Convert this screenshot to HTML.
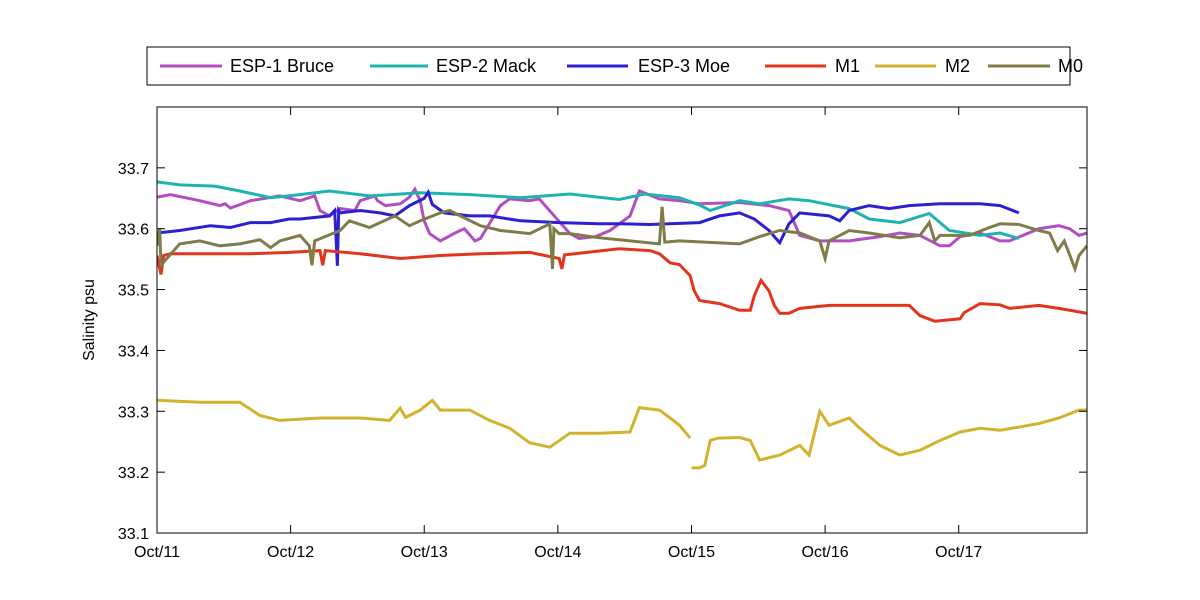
<!DOCTYPE html>
<html><head><meta charset="utf-8"><style>
body{margin:0;background:#fff;font-family:"Liberation Sans",Arial,sans-serif}
svg{display:block}
</style></head><body>
<svg id="chart" width="1200" height="600" xmlns="http://www.w3.org/2000/svg">
<rect width="1200" height="600" fill="#fff"/>
<g id="plot"></g>
<g id="axes"></g>
<g id="legend"></g>
</svg>
<script>
const xTickLabels=["Oct/11","Oct/12","Oct/13","Oct/14","Oct/15","Oct/16","Oct/17"];
const xTickDays=[0,1,2,3,4,5,6];
const yTicks=[33.1,33.2,33.3,33.4,33.5,33.6,33.7];
const seriesNames=["ESP-1 Bruce","ESP-2 Mack","ESP-3 Moe","M1","M2","M0"];
const seriesColors=["#b24fc0","#1fb3b0","#2c20d2","#e2351c","#d2b32e","#7f7c4a"];

const t1=[0,0.10,0.32,0.47,0.51,0.55,0.70,0.92,1.07,1.18,1.22,1.29,1.37,1.48,1.52,1.63,1.65,1.71,1.82,1.89,1.93,1.97,2.00,2.04,2.12,2.23,2.30,2.38,2.42,2.57,2.64,2.79,2.86,3.09,3.16,3.28,3.39,3.54,3.61,3.76,3.91,4.06,4.36,4.58,4.73,4.81,4.96,5.18,5.41,5.56,5.71,5.86,5.93,6.01,6.16,6.31,6.38,6.60,6.75,6.83,6.90,6.96];
const v1=[33.652,33.656,33.646,33.638,33.641,33.634,33.646,33.654,33.646,33.654,33.630,33.621,33.633,33.630,33.646,33.654,33.646,33.638,33.641,33.652,33.665,33.646,33.613,33.592,33.580,33.593,33.600,33.580,33.584,33.638,33.649,33.646,33.649,33.592,33.584,33.587,33.597,33.621,33.662,33.649,33.646,33.641,33.643,33.638,33.630,33.589,33.580,33.580,33.587,33.593,33.589,33.572,33.572,33.587,33.593,33.580,33.580,33.600,33.605,33.600,33.589,33.593];

const t2=[0,0.17,0.43,0.62,0.85,1.07,1.29,1.59,1.97,2.34,2.72,3.09,3.46,3.65,3.91,4.06,4.14,4.36,4.51,4.73,4.88,5.18,5.33,5.56,5.78,5.93,6.16,6.31,6.45];
const v2=[33.677,33.672,33.670,33.662,33.651,33.656,33.662,33.654,33.659,33.656,33.651,33.657,33.648,33.657,33.651,33.639,33.630,33.646,33.641,33.649,33.646,33.633,33.616,33.610,33.625,33.597,33.589,33.593,33.584];

const t3=[0,0.17,0.40,0.55,0.70,0.85,0.99,1.07,1.29,1.33,1.35,1.36,1.37,1.52,1.67,1.78,1.89,2.00,2.03,2.06,2.15,2.34,2.49,2.72,3.01,3.31,3.46,3.69,4.06,4.21,4.36,4.47,4.58,4.66,4.73,4.81,5.03,5.11,5.18,5.33,5.48,5.63,5.86,6.01,6.16,6.31,6.45];
const v3=[33.593,33.597,33.605,33.602,33.610,33.610,33.616,33.616,33.621,33.630,33.539,33.630,33.626,33.630,33.626,33.621,33.638,33.650,33.660,33.640,33.626,33.621,33.621,33.613,33.610,33.608,33.608,33.607,33.610,33.621,33.626,33.616,33.597,33.577,33.608,33.626,33.621,33.613,33.630,33.638,33.633,33.638,33.641,33.641,33.641,33.638,33.626];

const t4=[0,0.03,0.05,0.10,0.32,0.70,0.99,1.22,1.24,1.26,1.52,1.82,2.12,2.42,2.79,3.01,3.03,3.05,3.46,3.69,3.76,3.84,3.91,3.99,4.02,4.06,4.21,4.36,4.44,4.47,4.52,4.58,4.62,4.66,4.73,4.81,5.03,5.41,5.63,5.71,5.82,6.01,6.04,6.16,6.31,6.38,6.60,6.75,6.96];
const v4=[33.556,33.525,33.556,33.559,33.559,33.559,33.561,33.564,33.540,33.564,33.559,33.551,33.556,33.559,33.561,33.551,33.534,33.557,33.567,33.564,33.559,33.544,33.541,33.523,33.498,33.482,33.477,33.466,33.466,33.490,33.515,33.498,33.474,33.461,33.461,33.469,33.474,33.474,33.474,33.457,33.448,33.452,33.462,33.477,33.475,33.469,33.474,33.469,33.461];

const t5=[0,0.32,0.62,0.77,0.92,1.22,1.52,1.74,1.82,1.86,1.97,2.06,2.12,2.34,2.49,2.64,2.79,2.94,3.09,3.31,3.54,3.61,3.76,3.84,3.91,3.99,null,4.00,4.06,4.10,4.14,4.20,4.36,4.44,4.51,4.66,4.81,4.88,4.96,5.03,5.18,5.26,5.41,5.56,5.71,5.86,6.01,6.16,6.31,6.45,6.60,6.75,6.90,6.96];
const v5=[33.318,33.315,33.315,33.293,33.285,33.289,33.289,33.285,33.305,33.290,33.302,33.318,33.302,33.302,33.285,33.272,33.248,33.241,33.264,33.264,33.266,33.306,33.302,33.289,33.277,33.256,null,33.207,33.207,33.211,33.252,33.256,33.257,33.252,33.220,33.228,33.244,33.228,33.300,33.277,33.289,33.272,33.244,33.228,33.236,33.252,33.266,33.272,33.269,33.274,33.280,33.289,33.302,33.302];

const t6=[0,0.02,0.03,0.17,0.32,0.47,0.62,0.77,0.85,0.92,1.07,1.14,1.16,1.18,1.37,1.44,1.59,1.78,1.89,1.97,2.12,2.19,2.27,2.42,2.57,2.79,2.94,2.96,2.97,3.01,3.09,3.31,3.54,3.76,3.78,3.80,3.91,4.36,4.51,4.66,4.81,4.96,5.00,5.03,5.18,5.33,5.56,5.71,5.78,5.82,5.86,5.93,6.08,6.23,6.31,6.45,6.60,6.68,6.74,6.79,6.87,6.90,6.96];
const v6=[33.572,33.600,33.540,33.575,33.580,33.572,33.575,33.582,33.569,33.580,33.589,33.572,33.540,33.580,33.597,33.613,33.602,33.621,33.605,33.613,33.626,33.630,33.621,33.605,33.597,33.592,33.608,33.534,33.600,33.592,33.592,33.585,33.580,33.575,33.636,33.578,33.580,33.575,33.587,33.597,33.593,33.580,33.551,33.580,33.597,33.593,33.585,33.589,33.610,33.580,33.589,33.589,33.589,33.602,33.608,33.607,33.597,33.593,33.564,33.580,33.534,33.556,33.572];

const allT=[t1,t2,t3,t4,t5,t6];
const allV=[v1,v2,v3,v4,v5,v6];

const L=157,R=1087,T=107,B=533;
const X0=0,X1=6.96,Y0=33.1,Y1=33.8;
const sx=d=>L+(d-X0)/(X1-X0)*(R-L);
const sy=v=>B-(v-Y0)/(Y1-Y0)*(B-T);
const NS="http://www.w3.org/2000/svg";
function mk(tag,attrs,parent){const e=document.createElementNS(NS,tag);for(const k in attrs)e.setAttribute(k,attrs[k]);parent.appendChild(e);return e;}

const plot=document.getElementById('plot');
const clip=mk('clipPath',{id:'clp'},plot);mk('rect',{x:L,y:T,width:R-L,height:B-T},clip);
const order=[4,3,5,2,0,1];
const drawOrder=[0,1,2,3,4,5];
drawOrder.forEach(i=>{
  let d='',pen=false;
  for(let j=0;j<allT[i].length;j++){
    if(allT[i][j]===null){pen=false;continue;}
    d+=(pen?'L':'M')+sx(allT[i][j]).toFixed(1)+','+sy(allV[i][j]).toFixed(1);pen=true;
  }
  const p=mk('path',{d:d,fill:'none',stroke:seriesColors[i],'stroke-width':3,'stroke-linejoin':'miter','clip-path':'url(#clp)'},plot);
  
  
});

const ax=document.getElementById('axes');
const frame=mk('rect',{x:L,y:T,width:R-L,height:B-T,fill:'none',stroke:'#000','stroke-width':1},ax);


xTickDays.forEach((d,k)=>{
  const x=sx(d);
  mk('line',{x1:x,y1:B,x2:x,y2:B-8,stroke:'#000'},ax);
  mk('line',{x1:x,y1:T,x2:x,y2:T+8,stroke:'#000'},ax);
  const t=mk('text',{x:x,y:557,'text-anchor':'middle','font-size':16,fill:'#000'},ax);
  t.textContent=xTickLabels[k];
  
  
});
yTicks.forEach(v=>{
  const y=sy(v);
  mk('line',{x1:L,y1:y,x2:L+8,y2:y,stroke:'#000'},ax);
  mk('line',{x1:R,y1:y,x2:R-8,y2:y,stroke:'#000'},ax);
  const t=mk('text',{x:149,y:y+6,'text-anchor':'end','font-size':16,fill:'#000'},ax);
  t.textContent=v.toFixed(1);
  
  
});
const yl=mk('text',{x:0,y:0,transform:'translate(94,320) rotate(-90)','text-anchor':'middle','font-size':16,fill:'#000'},ax);
yl.textContent='Salinity psu';



const lg=document.getElementById('legend');
mk('rect',{x:147,y:47,width:923,height:38,fill:'#fff',stroke:'#000'},lg);
const lx=[[160,222,230],[370,428,436],[567,628,638],[765,826,835],[875,936,945],[988,1050,1058]];
seriesNames.forEach((n,i)=>{
  const g=mk('g',{},lg);
  
  
  mk('line',{x1:lx[i][0],y1:66,x2:lx[i][1],y2:66,stroke:seriesColors[i],'stroke-width':3},g);
  const t=mk('text',{x:lx[i][2],y:72,'font-size':18,fill:'#000'},g);
  t.textContent=n;
});
</script>
</body></html>
